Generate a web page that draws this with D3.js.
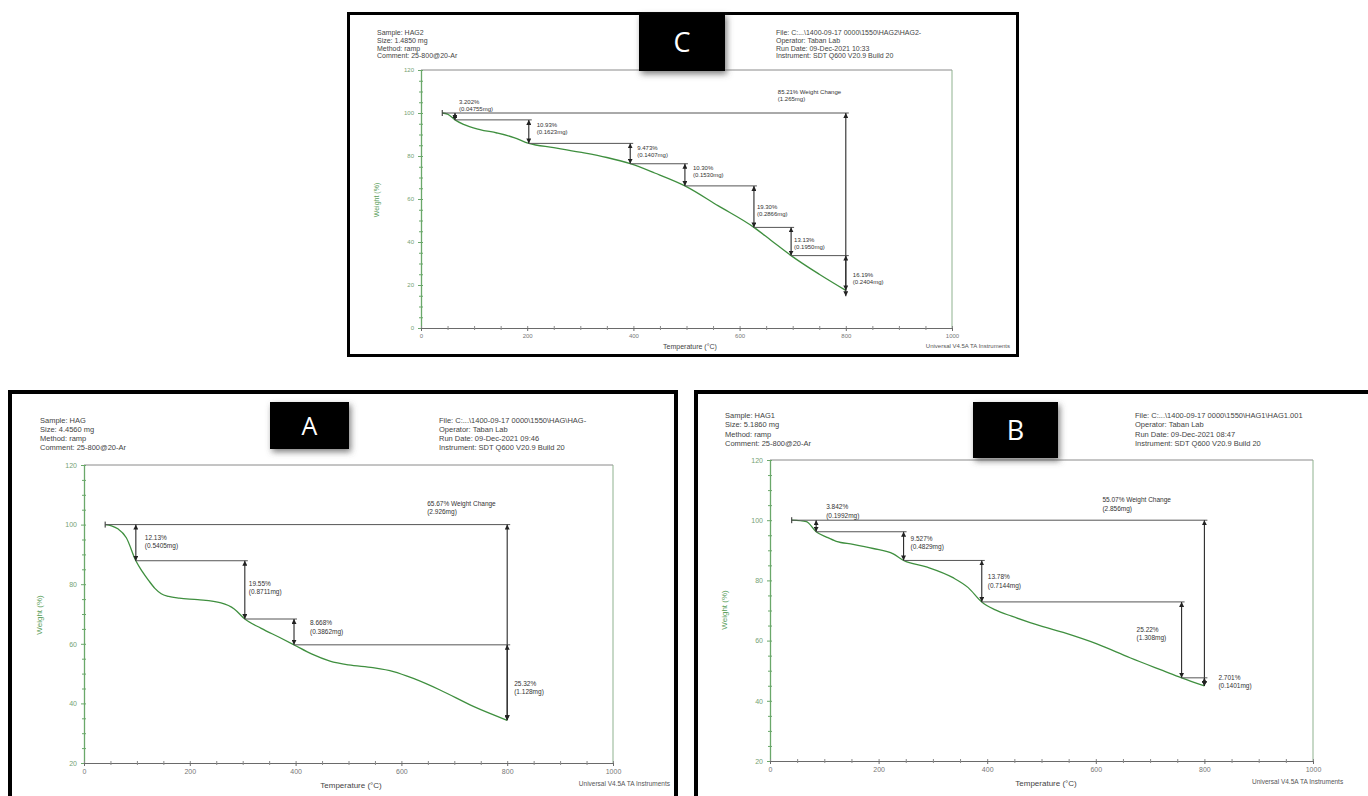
<!DOCTYPE html>
<html><head><meta charset="utf-8">
<script src="https://cdn.jsdelivr.net/npm/d3@7"></script>
<style>
body{margin:0;background:#fff;}
svg{display:block;font-family:"Liberation Sans",Arial,sans-serif;}
</style></head><body>
<svg id="fig" width="1368" height="796"></svg>
<script>
// ---------- HAG2 (panel C) ----------
const tempC   = [40, 50, 64, 80, 111, 143, 175, 203, 250, 299, 350, 394, 440, 497, 560, 627, 660, 697, 750, 800];
const weightC = [100, 99.5, 96.80, 94.7, 92.3, 90.7, 88.6, 85.87, 83.9, 81.8, 79.3, 76.40, 72.1, 66.10, 56.8, 46.80, 40.6, 33.67, 25.0, 17.48];
const stepTempC = [64, 203, 394, 497, 627, 697, 800];
const stepPctC  = [3.202, 10.93, 9.473, 10.30, 19.30, 13.13, 16.19];
const stepMgC   = ["0.04755", "0.1623", "0.1407", "0.1530", "0.2866", "0.1950", "0.2404"];
const totalPctC = 85.21, totalMgC = "1.265";
const headLeftC  = ["Sample: HAG2", "Size: 1.4850 mg", "Method: ramp", "Comment: 25-800@20-Ar"];
const headRightC = ["File: C:...\\1400-09-17 0000\\1550\\HAG2\\HAG2-", "Operator: Taban Lab", "Run Date: 09-Dec-2021 10:33", "Instrument: SDT Q600 V20.9 Build 20"];

// ---------- HAG (panel A) ----------
const tempA   = [40, 52, 64, 80, 98, 110, 122, 134, 146, 160, 180, 215, 259, 284, 304, 335, 370, 397, 430, 465, 500, 546, 585, 625, 673, 736, 800];
const weightA = [100, 99.6, 98.6, 95.6, 87.87, 84.3, 81.3, 78.6, 76.8, 75.9, 75.3, 74.8, 73.7, 71.7, 68.32, 65.2, 62.1, 59.65, 56.6, 54.2, 52.9, 52.0, 50.7, 48.2, 44.5, 39.0, 34.33];
const stepTempA = [98, 304, 397, 800];
const stepPctA  = [12.13, 19.55, 8.668, 25.32];
const stepMgA   = ["0.5405", "0.8711", "0.3862", "1.128"];
const totalPctA = 65.67, totalMgA = "2.926";
const headLeftA  = ["Sample: HAG", "Size: 4.4560 mg", "Method: ramp", "Comment: 25-800@20-Ar"];
const headRightA = ["File: C:...\\1400-09-17 0000\\1550\\HAG\\HAG-", "Operator: Taban Lab", "Run Date: 09-Dec-2021 09:46", "Instrument: SDT Q600 V20.9 Build 20"];

// ---------- HAG1 (panel B) ----------
const tempB   = [40, 67, 85, 104, 122, 153, 190, 227, 246, 288, 337, 365, 390, 415, 445, 479, 540, 602, 663, 724, 758, 800];
const weightB = [100, 99.5, 96.16, 94.4, 93.0, 92.0, 90.6, 88.8, 86.63, 84.5, 80.9, 77.6, 72.85, 70.2, 68.1, 66.0, 62.7, 58.9, 54.3, 50.0, 47.63, 44.93];
const stepTempB = [85, 246, 390, 758, 800];
const stepPctB  = [3.842, 9.527, 13.78, 25.22, 2.701];
const stepMgB   = ["0.1992", "0.4829", "0.7144", "1.308", "0.1401"];
const totalPctB = 55.07, totalMgB = "2.856";
const headLeftB  = ["Sample: HAG1", "Size: 5.1860 mg", "Method: ramp", "Comment: 25-800@20-Ar"];
const headRightB = ["File: C:...\\1400-09-17 0000\\1550\\HAG1\\HAG1.001", "Operator: Taban Lab", "Run Date: 09-Dec-2021 08:47", "Instrument: SDT Q600 V20.9 Build 20"];

// shared axis ticks
const tempTicks = [0, 200, 400, 600, 800, 1000];
const xTitle = "Temperature (°C)";
const yTitle = "Weight (%)";
const footer = "Universal V4.5A TA Instruments";

// ---------- drawing ----------
const svg = d3.select("#fig");
const defs = svg.append("defs");
defs.append("marker").attr("id", "ah")
  .attr("viewBox", "0 0 10 10").attr("refX", 10).attr("refY", 5)
  .attr("markerUnits", "userSpaceOnUse").attr("markerWidth", 5).attr("markerHeight", 5)
  .attr("orient", "auto-start-reverse")
  .append("path").attr("d", "M0,0 L10,5 L0,10 z").attr("fill", "#222");
const sh = defs.append("filter").attr("id", "shadow").attr("x", "-20%").attr("y", "-20%").attr("width", "150%").attr("height", "150%");
sh.append("feDropShadow").attr("dx", 2).attr("dy", 3).attr("stdDeviation", 3)
  .attr("flood-color", "#555").attr("flood-opacity", 0.75);

const GREEN = "#3f8f3f";
const AXIS_GREEN = "#6aa86a";

function drawPanel(p) {
  // outer frame
  svg.append("rect").attr("x", p.frame[0]).attr("y", p.frame[1])
    .attr("width", p.frame[2]).attr("height", p.frame[3])
    .attr("fill", "#fff").attr("stroke", "#000").attr("stroke-width", p.frameW);

  const g = svg.append("g");
  const x = d3.scaleLinear().domain([0, 1000]).range([p.px0, p.px1]);
  const y = d3.scaleLinear().domain([p.yMin, 120]).range([p.pyBot, p.pyTop]);

  // plot frame (top + right)
  g.append("line").attr("x1", x(0)).attr("x2", x(1000)).attr("y1", y(120)).attr("y2", y(120))
    .attr("stroke", "#8a8a8a").attr("stroke-width", 1);
  g.append("line").attr("x1", x(1000)).attr("x2", x(1000)).attr("y1", y(120)).attr("y2", y(p.yMin))
    .attr("stroke", "#8fb28f").attr("stroke-width", 1);

  const yMajor = d3.range(p.yMin, 121, 20);
  const yMinor = d3.range(p.yMin, 120.1, 5).filter(v => (v - p.yMin) % 20 !== 0);
  const xMinor = d3.range(0, 1000.1, 50).filter(v => v % 200 !== 0);

  // left axis (green)
  const ya = g.append("g").attr("transform", `translate(${x(0)},0)`)
    .call(d3.axisLeft(y).tickValues(yMajor).tickFormat(d3.format("d")).tickSize(3).tickSizeOuter(0).tickPadding(4));
  ya.attr("font-family", null).attr("font-size", null);
  ya.select(".domain").attr("stroke", AXIS_GREEN).attr("stroke-width", 1.3);
  ya.selectAll(".tick line").attr("stroke", AXIS_GREEN);
  ya.selectAll(".tick text").attr("fill", "#74a274").style("font-size", p.tickFont + "px");
  g.append("g").attr("transform", `translate(${x(0)},0)`)
    .call(d3.axisLeft(y).tickValues(yMinor).tickSize(2).tickFormat(""))
    .call(s => s.select(".domain").remove())
    .selectAll("line").attr("stroke", AXIS_GREEN);
  g.append("g").attr("transform", `translate(${x(0)},0)`)
    .call(d3.axisRight(y).tickValues(yMajor.concat(yMinor)).tickSize(2).tickFormat(""))
    .call(s => s.select(".domain").remove())
    .selectAll("line").attr("stroke", AXIS_GREEN);

  // bottom axis (grey)
  const xa = g.append("g").attr("transform", `translate(0,${y(p.yMin)})`)
    .call(d3.axisBottom(x).tickValues(tempTicks).tickFormat(d3.format("d")).tickSize(3).tickSizeOuter(0).tickPadding(3));
  xa.attr("font-family", null).attr("font-size", null);
  xa.select(".domain").attr("stroke", "#6a6a6a").attr("stroke-width", 1.2);
  xa.selectAll(".tick line").attr("stroke", "#6a6a6a");
  xa.selectAll(".tick text").attr("fill", "#777").style("font-size", p.tickFont + "px");
  g.append("g").attr("transform", `translate(0,${y(p.yMin)})`)
    .call(d3.axisBottom(x).tickValues(xMinor).tickSize(2).tickFormat(""))
    .call(s => s.select(".domain").remove())
    .selectAll("line").attr("stroke", "#8a8a8a");
  g.append("g").attr("transform", `translate(0,${y(p.yMin)})`)
    .call(d3.axisTop(x).tickValues(tempTicks.concat(xMinor)).tickSize(2).tickFormat(""))
    .call(s => s.select(".domain").remove())
    .selectAll("line").attr("stroke", "#8a8a8a");

  // weight curve
  const pts = p.temps.map((t, i) => [t, p.weights[i]]);
  g.append("path").datum(pts)
    .attr("d", d3.line().x(d => x(d[0])).y(d => y(d[1])).curve(d3.curveMonotoneX))
    .attr("fill", "none").attr("stroke", GREEN).attr("stroke-width", 1.3);

  // start marker and total weight-change line
  const t0 = p.temps[0];
  const ink = "#2a2a2a";
  g.append("line").attr("x1", x(t0)).attr("x2", x(t0)).attr("y1", y(100) - 3).attr("y2", y(100) + 3)
    .attr("stroke", ink).attr("stroke-width", 1);
  g.append("line").attr("x1", x(t0)).attr("x2", x(800) + 3).attr("y1", y(100)).attr("y2", y(100))
    .attr("stroke", "#555").attr("stroke-width", 1);
  g.append("line").attr("x1", x(800)).attr("x2", x(800)).attr("y1", y(100)).attr("y2", y(100 - p.totalPct))
    .attr("stroke", ink).attr("stroke-width", 1.1)
    .attr("marker-start", "url(#ah)").attr("marker-end", "url(#ah)");
  const tl = g.append("text").attr("fill", "#333").style("font-size", p.annFont + "px")
    .attr("x", x(800) + p.totalOff[0]).attr("y", y(100) + p.totalOff[1]);
  tl.append("tspan").text(d3.format(".2f")(p.totalPct) + "% Weight Change");
  tl.append("tspan").attr("x", x(800) + p.totalOff[0]).attr("dy", p.annLine).text("(" + p.totalMg + "mg)");

  // step changes
  let level = 100;
  let prevT = t0;
  p.stepTemps.forEach((t, i) => {
    const top = level, bot = level - p.stepPct[i];
    if (i > 0) {
      g.append("line").attr("x1", x(prevT)).attr("x2", x(t) + 3).attr("y1", y(top)).attr("y2", y(top))
        .attr("stroke", "#555").attr("stroke-width", 1);
    }
    g.append("line").attr("x1", x(t)).attr("x2", x(t)).attr("y1", y(top)).attr("y2", y(bot))
      .attr("stroke", ink).attr("stroke-width", 1.1)
      .attr("marker-start", "url(#ah)").attr("marker-end", "url(#ah)");
    const [dx, dy] = p.stepOff[i];
    const lbl = g.append("text").attr("fill", "#333").style("font-size", p.annFont + "px")
      .attr("x", x(t) + dx).attr("y", y(top) + dy);
    const pctTxt = p.stepPct[i] >= 10 ? d3.format(".2f")(p.stepPct[i]) : d3.format(".3f")(p.stepPct[i]);
    lbl.append("tspan").text(pctTxt + "%");
    lbl.append("tspan").attr("x", x(t) + dx).attr("dy", p.annLine).text("(" + p.stepMg[i] + "mg)");
    level = bot; prevT = t;
  });

  // headers
  const hf = p.headFont;
  p.headLeft.forEach((s, i) => svg.append("text").attr("x", p.headX[0]).attr("y", p.headY + i * p.headLine)
    .attr("fill", "#444").style("font-size", hf + "px").text(s));
  p.headRight.forEach((s, i) => svg.append("text").attr("x", p.headX[1]).attr("y", p.headY + i * p.headLine)
    .attr("fill", "#444").style("font-size", hf + "px").text(s));

  // axis titles and footer
  svg.append("text").attr("transform", `translate(${p.yTitlePos[0]},${p.yTitlePos[1]}) rotate(-90)`)
    .attr("text-anchor", "middle").attr("fill", "#5a9e5a").style("font-size", p.titleFont + "px").text(yTitle);
  svg.append("text").attr("x", p.xTitlePos[0]).attr("y", p.xTitlePos[1]).attr("text-anchor", "middle")
    .attr("fill", "#444").style("font-size", p.titleFont + "px").text(xTitle);
  svg.append("text").attr("x", p.footPos[0]).attr("y", p.footPos[1]).attr("text-anchor", p.footAnchor)
    .attr("fill", "#555").style("font-size", p.footFont + "px").text(footer);

  // panel letter box
  svg.append("rect").attr("x", p.box[0]).attr("y", p.box[1]).attr("width", p.box[2]).attr("height", p.box[3])
    .attr("fill", "#000").attr("filter", "url(#shadow)");
  svg.append("text").attr("x", p.box[0] + p.box[2] / 2).attr("y", p.box[1] + p.box[3] / 2 + p.letterSize * 0.36)
    .attr("text-anchor", "middle").attr("fill", "#fff")
    .style("font-family", "'Open Sans', 'Liberation Sans', sans-serif")
    .style("font-size", p.letterSize + "px").text(p.letter);
}

drawPanel({
  letter: "C", frame: [348.5, 13.5, 669, 342], frameW: 3,
  px0: 421, px1: 952, pyTop: 70, pyBot: 328, yMin: 0,
  temps: tempC, weights: weightC, stepTemps: stepTempC, stepPct: stepPctC, stepMg: stepMgC,
  totalPct: totalPctC, totalMg: totalMgC,
  stepOff: [[4, -9], [8, 7], [7, 7], [8, 6], [3, 23], [3, 15], [7, 21]],
  totalOff: [-68, -19], annFont: 6, annLine: 7,
  tickFont: 6, titleFont: 7, footFont: 6, footPos: [1010, 348], footAnchor: "end",
  headLeft: headLeftC, headRight: headRightC, headX: [377, 776], headY: 35, headLine: 7.8, headFont: 7,
  yTitlePos: [379, 200], xTitlePos: [690, 349],
  box: [639, 13, 86, 58], letterSize: 27
});

drawPanel({
  letter: "A", frame: [10, 392, 666, 406], frameW: 4,
  px0: 84, px1: 613, pyTop: 465, pyBot: 763, yMin: 20,
  temps: tempA, weights: weightA, stepTemps: stepTempA, stepPct: stepPctA, stepMg: stepMgA,
  totalPct: totalPctA, totalMg: totalMgA,
  stepOff: [[9, 15], [4, 25], [16, 6], [7, 41]],
  totalOff: [-80, -19], annFont: 6.5, annLine: 8.5,
  tickFont: 7, titleFont: 8, footFont: 6.5, footPos: [670, 786], footAnchor: "end",
  headLeft: headLeftA, headRight: headRightA, headX: [40, 439], headY: 423, headLine: 9, headFont: 7.5,
  yTitlePos: [42, 615], xTitlePos: [351, 788],
  box: [270, 402, 79, 47], letterSize: 25
});

drawPanel({
  letter: "B", frame: [696, 392, 690, 420], frameW: 4,
  px0: 770, px1: 1313, pyTop: 460, pyBot: 761, yMin: 20,
  temps: tempB, weights: weightB, stepTemps: stepTempB, stepPct: stepPctB, stepMg: stepMgB,
  totalPct: totalPctB, totalMg: totalMgB,
  stepOff: [[10, -11], [7, 9], [6, 19], [-45, 30], [14, 2]],
  totalOff: [-102, -18], annFont: 6.5, annLine: 8.5,
  tickFont: 7, titleFont: 8, footFont: 6.5, footPos: [1252, 784], footAnchor: "start",
  headLeft: headLeftB, headRight: headRightB, headX: [725, 1135], headY: 418, headLine: 9.3, headFont: 7.5,
  yTitlePos: [727, 610], xTitlePos: [1046, 786],
  box: [973, 402, 85, 56], letterSize: 27
});
</script>
</body></html>
